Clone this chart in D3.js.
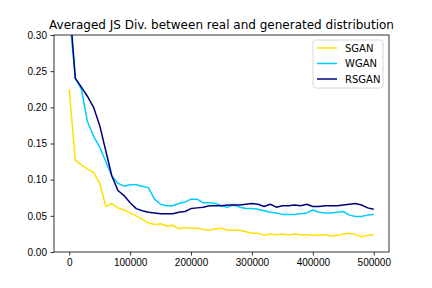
<!DOCTYPE html>
<html>
<head>
    <meta charset="utf-8">
    <title>Averaged JS Div.</title>
    <script src="https://d3js.org/d3.v7.min.js"></script>
    <style>
        body { margin: 0; background: #fff; }
        svg { display: block; font-family: "DejaVu Sans", sans-serif; }
        .axis text { font-size: 10px; fill: #000; }
    </style>
</head>
<body>
<svg id="chart" width="432" height="288"></svg>
<script>
    // pasos de entrenamiento (cada 10000)
    const steps = d3.range(0, 500001, 10000);

    const sgan = [0.225, 0.127, 0.120, 0.115, 0.110, 0.095, 0.063, 0.067, 0.061, 0.058,
        0.054, 0.050, 0.045, 0.040, 0.038, 0.039, 0.036, 0.037, 0.032, 0.034,
        0.033, 0.033, 0.031, 0.030, 0.032, 0.033, 0.030, 0.030, 0.030, 0.028,
        0.026, 0.026, 0.023, 0.025, 0.024, 0.025, 0.024, 0.025, 0.024, 0.024,
        0.023, 0.023, 0.024, 0.022, 0.023, 0.025, 0.026, 0.024, 0.021, 0.023, 0.024];

    const wgan = [0.330, 0.240, 0.225, 0.180, 0.160, 0.145, 0.125, 0.105, 0.095, 0.091,
        0.093, 0.093, 0.091, 0.089, 0.073, 0.066, 0.064, 0.064, 0.067, 0.069,
        0.073, 0.073, 0.068, 0.068, 0.067, 0.064, 0.062, 0.065, 0.062, 0.060,
        0.060, 0.059, 0.057, 0.055, 0.054, 0.052, 0.052, 0.052, 0.053, 0.054,
        0.058, 0.055, 0.054, 0.054, 0.055, 0.056, 0.051, 0.049, 0.049, 0.051, 0.052];

    const rsgan = [0.350, 0.240, 0.228, 0.215, 0.200, 0.175, 0.140, 0.105, 0.085, 0.078,
        0.068, 0.060, 0.057, 0.055, 0.054, 0.053, 0.053, 0.053, 0.055, 0.056,
        0.060, 0.061, 0.062, 0.064, 0.064, 0.064, 0.065, 0.065, 0.065, 0.066,
        0.067, 0.066, 0.063, 0.066, 0.062, 0.064, 0.064, 0.065, 0.064, 0.066,
        0.063, 0.063, 0.064, 0.064, 0.064, 0.065, 0.066, 0.067, 0.065, 0.061, 0.059];

    const xTicks = [0, 100000, 200000, 300000, 400000, 500000];
    const yTicks = [0, 0.05, 0.10, 0.15, 0.20, 0.25, 0.30];

    const series = [
        { name: "SGAN", values: sgan, color: "#ffe000" },
        { name: "WGAN", values: wgan, color: "#00ccff" },
        { name: "RSGAN", values: rsgan, color: "#00007f" }
    ];

    const svg = d3.select("#chart");
    const margin = { top: 35, right: 43, bottom: 36, left: 54 };
    const width = +svg.attr("width");
    const height = +svg.attr("height");

    const x = d3.scaleLinear()
        .domain([-25000, 525000])
        .range([margin.left, width - margin.right]);

    const y = d3.scaleLinear()
        .domain([0, 0.30])
        .range([height - margin.bottom, margin.top]);

    // recorte del area de dibujo
    svg.append("clipPath").attr("id", "clip")
        .append("rect")
        .attr("x", margin.left)
        .attr("y", margin.top)
        .attr("width", width - margin.left - margin.right)
        .attr("height", height - margin.top - margin.bottom);

    const line = d3.line()
        .x((d, i) => x(steps[i]))
        .y(d => y(d));

    svg.append("g")
        .attr("clip-path", "url(#clip)")
        .selectAll("path")
        .data(series)
        .join("path")
        .attr("fill", "none")
        .attr("stroke", d => d.color)
        .attr("stroke-width", 1.5)
        .attr("stroke-linejoin", "round")
        .attr("d", d => line(d.values));

    // ejes
    const xAxis = svg.append("g")
        .attr("class", "axis")
        .attr("transform", `translate(0,${height - margin.bottom})`)
        .call(d3.axisBottom(x).tickValues(xTicks).tickFormat(d3.format("d")).tickSize(3.5).tickPadding(3.5));

    const yAxis = svg.append("g")
        .attr("class", "axis")
        .attr("transform", `translate(${margin.left},0)`)
        .call(d3.axisLeft(y).tickValues(yTicks).tickFormat(d3.format(".2f")).tickSize(3.5).tickPadding(3.5));

    [xAxis, yAxis].forEach(g => {
        g.select(".domain").remove();
        g.selectAll(".tick line").attr("stroke", "#000").attr("stroke-width", 0.8);
    });

    // marco
    svg.append("rect")
        .attr("x", margin.left)
        .attr("y", margin.top)
        .attr("width", width - margin.left - margin.right)
        .attr("height", height - margin.top - margin.bottom)
        .attr("fill", "none")
        .attr("stroke", "#000")
        .attr("stroke-width", 0.8);

    // titulo
    svg.append("text")
        .attr("x", (margin.left + width - margin.right) / 2)
        .attr("y", margin.top - 6)
        .attr("text-anchor", "middle")
        .attr("font-size", 12)
        .attr("fill", "#000")
        .text("Averaged JS Div. between real and generated distribution");

    // leyenda
    const legend = svg.append("g")
        .attr("transform", `translate(313,40)`);

    legend.append("rect")
        .attr("width", 70)
        .attr("height", 48)
        .attr("rx", 2.5)
        .attr("fill", "#fff")
        .attr("fill-opacity", 0.8)
        .attr("stroke", "#cccccc")
        .attr("stroke-width", 0.8);

    const item = legend.selectAll("g.item")
        .data(series)
        .join("g")
        .attr("class", "item")
        .attr("transform", (d, i) => `translate(0,${8 + i * 15.5})`);

    item.append("line")
        .attr("x1", 4).attr("x2", 24)
        .attr("stroke", d => d.color)
        .attr("stroke-width", 1.5);

    item.append("text")
        .attr("x", 32)
        .attr("y", 3.5)
        .attr("font-size", 10)
        .attr("fill", "#000")
        .text(d => d.name);
</script>
</body>
</html>
